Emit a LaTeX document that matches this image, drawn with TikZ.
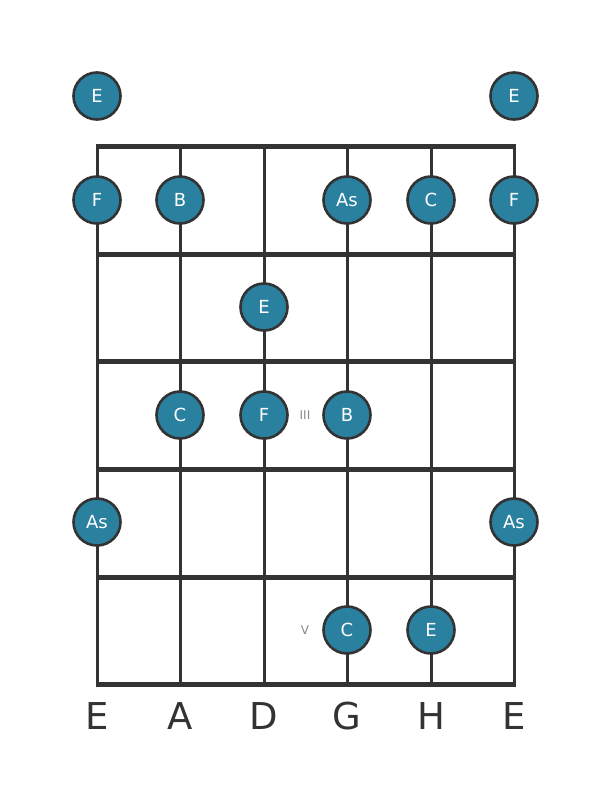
\documentclass[tikz,border=0pt]{standalone}
\usepackage{fontspec}
\setmainfont{DejaVu Sans}
\definecolor{notefill}{HTML}{2A809F}
\definecolor{linec}{HTML}{333333}
\definecolor{fingc}{HTML}{888888}
\begin{document}
\begin{tikzpicture}[x=1pt,y=-1pt,
  note/.style={circle,draw=linec,line width=2.6pt,fill=notefill,minimum size=47pt,inner sep=0pt,text=white,font=\fontsize{18}{18}\selectfont},
  fret/.style={line width=5pt,draw=linec},
  str/.style={line width=3pt,draw=linec},
  sname/.style={text=linec,font=\fontsize{37}{37}\selectfont,inner sep=0pt},
  fing/.style={text=fingc,font=\fontsize{12}{12}\selectfont,inner sep=0pt}]
\useasboundingbox (0,0) rectangle (611,801);
% strings
\foreach \i/\x in {1/97,2/180,3/264,4/347,5/431,6/514}{
  \coordinate (st\i) at (\x,146);
  \coordinate (sb\i) at (\x,684);
  \draw[str] (st\i) -- (sb\i);
}
% frets
\foreach \j/\y in {0/146,1/254,2/361,3/469,4/577,5/684}{
  \coordinate (fl\j) at (95.5,\y);
  \coordinate (fr\j) at (515.5,\y);
  \draw[fret] (fl\j) -- (fr\j);
}
% notes
\node[note] (n1) at (97,96) {E};
\node[note] (n2) at (514,96) {E};
\node[note] (n3) at (97,200) {F};
\node[note] (n4) at (180,200) {B};
\node[note] (n5) at (347,200) {As};
\node[note] (n6) at (431,200) {C};
\node[note] (n7) at (514,200) {F};
\node[note] (n8) at (264,307) {E};
\node[note] (n9) at (180,415) {C};
\node[note] (n10) at (264,415) {F};
\node[note] (n11) at (347,415) {B};
\node[note] (n12) at (97,522) {As};
\node[note] (n13) at (514,522) {As};
\node[note] (n14) at (347,630) {C};
\node[note] (n15) at (431,630) {E};
% position marks
\node[fing] (p3) at (305,415) {III};
\node[fing] (p5) at (305,630) {V};
% string names
\node[sname] (l1) at (97,716) {E};
\node[sname] (l2) at (180,716) {A};
\node[sname] (l3) at (264,716) {D};
\node[sname] (l4) at (347,716) {G};
\node[sname] (l5) at (431,716) {H};
\node[sname] (l6) at (514,716) {E};
\end{tikzpicture}
\end{document}
